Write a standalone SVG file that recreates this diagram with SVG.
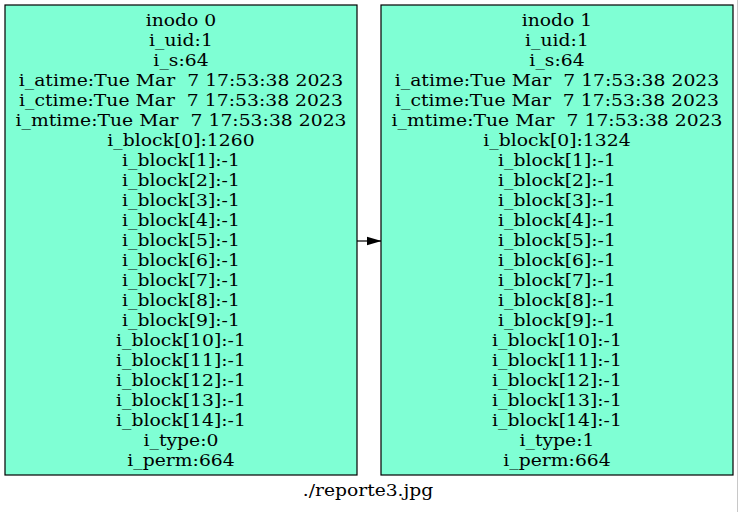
<svg xmlns="http://www.w3.org/2000/svg" width="739" height="512" viewBox="0 0 739 512">
<style>
.box{fill:#7fffd4;stroke:#000;stroke-width:1.2}
text{font-family:"DejaVu Serif","Liberation Serif",serif;font-size:16.7px;fill:#000;text-anchor:middle;white-space:pre}
</style>
<defs>
<marker id="ah" markerUnits="userSpaceOnUse" markerWidth="15" markerHeight="11" refX="15" refY="5.5" orient="auto">
<polygon points="0,1 15,5.5 0,10" fill="#000"/>
</marker>
</defs>
<rect x="0" y="0" width="739" height="512" fill="#fff"/>
<line x1="737.5" y1="0" x2="737.5" y2="512" stroke="#c8c8c8" stroke-width="1"/>
<g id="connectors">
<line x1="357" y1="241" x2="381.5" y2="241" stroke="#000" stroke-width="1.2" marker-end="url(#ah)"/>
</g>
<g id="inodo0">
<rect class="box" x="5" y="5" width="352" height="470"/>
<g transform="translate(181 0) scale(1.125 1)">
<text x="0" y="26">inodo 0</text>
<text x="0" y="46">i_uid:1</text>
<text x="0" y="66">i_s:64</text>
<text x="0" y="86">i_atime:Tue Mar  7 17:53:38 2023</text>
<text x="0" y="106">i_ctime:Tue Mar  7 17:53:38 2023</text>
<text x="0" y="126">i_mtime:Tue Mar  7 17:53:38 2023</text>
<text x="0" y="146">i_block[0]:1260</text>
<text x="0" y="166">i_block[1]:-1</text>
<text x="0" y="186">i_block[2]:-1</text>
<text x="0" y="206">i_block[3]:-1</text>
<text x="0" y="226">i_block[4]:-1</text>
<text x="0" y="246">i_block[5]:-1</text>
<text x="0" y="266">i_block[6]:-1</text>
<text x="0" y="286">i_block[7]:-1</text>
<text x="0" y="306">i_block[8]:-1</text>
<text x="0" y="326">i_block[9]:-1</text>
<text x="0" y="346">i_block[10]:-1</text>
<text x="0" y="366">i_block[11]:-1</text>
<text x="0" y="386">i_block[12]:-1</text>
<text x="0" y="406">i_block[13]:-1</text>
<text x="0" y="426">i_block[14]:-1</text>
<text x="0" y="446">i_type:0</text>
<text x="0" y="466">i_perm:664</text>
</g>
</g>
<g id="inodo1">
<rect class="box" x="381" y="5" width="352" height="470"/>
<g transform="translate(557 0) scale(1.125 1)">
<text x="0" y="26">inodo 1</text>
<text x="0" y="46">i_uid:1</text>
<text x="0" y="66">i_s:64</text>
<text x="0" y="86">i_atime:Tue Mar  7 17:53:38 2023</text>
<text x="0" y="106">i_ctime:Tue Mar  7 17:53:38 2023</text>
<text x="0" y="126">i_mtime:Tue Mar  7 17:53:38 2023</text>
<text x="0" y="146">i_block[0]:1324</text>
<text x="0" y="166">i_block[1]:-1</text>
<text x="0" y="186">i_block[2]:-1</text>
<text x="0" y="206">i_block[3]:-1</text>
<text x="0" y="226">i_block[4]:-1</text>
<text x="0" y="246">i_block[5]:-1</text>
<text x="0" y="266">i_block[6]:-1</text>
<text x="0" y="286">i_block[7]:-1</text>
<text x="0" y="306">i_block[8]:-1</text>
<text x="0" y="326">i_block[9]:-1</text>
<text x="0" y="346">i_block[10]:-1</text>
<text x="0" y="366">i_block[11]:-1</text>
<text x="0" y="386">i_block[12]:-1</text>
<text x="0" y="406">i_block[13]:-1</text>
<text x="0" y="426">i_block[14]:-1</text>
<text x="0" y="446">i_type:1</text>
<text x="0" y="466">i_perm:664</text>
</g>
</g>
<text id="caption" transform="translate(368 496) scale(1.12 1)" x="0" y="0">./reporte3.jpg</text>
</svg>
